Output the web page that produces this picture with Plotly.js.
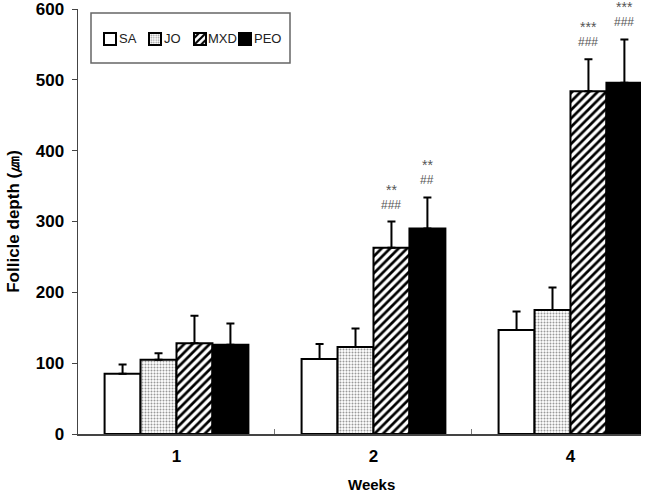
<!DOCTYPE html>
<html><head><meta charset="utf-8">
<script src="https://cdn.plot.ly/plotly-3.0.1.min.js"></script>
<style>html,body{margin:0;padding:0;background:#fff;}#chart{width:645px;height:493px;}</style>
</head><body><div id="chart"></div>
<script>
const weeks = ['1', '2', '4'];
const groups = ['SA', 'JO', 'MXD', 'PEO'];
const saMean = [85, 106, 147];
const saErr = [13, 21, 26];
const joMean = [105, 123, 175];
const joErr = [9, 26, 32];
const mxdMean = [128, 263, 484];
const mxdErr = [39, 37, 45];
const peoMean = [126, 290, 496];
const peoErr = [30, 44, 61];
// significance marks: [week index, group index, stars, hashes]
const sigWeek = [1, 1, 2, 2];
const sigGroup = [2, 3, 2, 3];
const sigStars = ['**', '**', '***', '***'];
const sigHash = ['###', '##', '###', '###'];

const means = [saMean, joMean, mxdMean, peoMean];
const errs = [saErr, joErr, mxdErr, peoErr];
const patterns = [
  {shape: '', fill: '#fff'},
  {shape: '.', fg: '#999', bg: '#fff', fill: '#fff', size: 3, solidity: 0.35},
  {shape: '/', fg: '#000', bg: '#fff', fill: '#fff', size: 6, solidity: 0.45},
  {shape: '', fill: '#000'}
];

const traces = groups.map((g, i) => {
  const p = patterns[i];
  const marker = {color: p.fill, line: {color: '#000', width: 2}};
  if (p.shape) marker.pattern = {shape: p.shape, fgcolor: p.fg, bgcolor: p.bg, size: p.size, solidity: p.solidity, fillmode: 'replace'};
  return {
    type: 'bar', name: '', x: weeks, y: means[i], marker: marker,
    error_y: {type: 'data', symmetric: false, array: errs[i], arrayminus: errs[i].map(() => 0), color: '#000', thickness: 2, width: 4}
  };
});

const L = 78, W = 563, B = 434, H = 425;
const px2x = p => (p - L) / W;
const px2y = p => (B - p) / H;

const bargap = 0.27;
const barW = (1 - bargap) / groups.length;
const annotations = [];
for (let k = 0; k < sigWeek.length; k++) {
  const w = sigWeek[k], gi = sigGroup[k];
  const xpos = w - (1 - bargap) / 2 + barW * (gi + 0.5);
  const top = means[gi][w] + errs[gi][w];
  annotations.push({x: xpos, y: top, xref: 'x', yref: 'y', text: sigHash[k], showarrow: false, yanchor: 'bottom', yshift: 8, font: {family: 'Liberation Sans, Arial', size: 12, color: '#555'}});
  annotations.push({x: xpos, y: top, xref: 'x', yref: 'y', text: sigStars[k], showarrow: false, yanchor: 'bottom', yshift: 22, font: {family: 'Liberation Sans, Arial', size: 14, color: '#555'}});
}
// legend labels next to the legend symbols
const legendLabelPx = [117, 162, 206, 252];
groups.forEach((g, i) => {
  annotations.push({x: px2x(legendLabelPx[i]), y: px2y(39), xref: 'paper', yref: 'paper', text: g, showarrow: false, xanchor: 'left', yanchor: 'middle', font: {family: 'Liberation Sans, Arial', size: 13, color: '#222'}});
});
// x axis title
annotations.push({x: px2x(371), y: px2y(484), xref: 'paper', yref: 'paper', text: '<b>Weeks</b>', showarrow: false, xanchor: 'center', yanchor: 'middle', font: {family: 'Liberation Sans, Arial', size: 15, color: '#000'}});

const layout = {
  width: 645, height: 493,
  margin: {l: 78, r: 4, t: 9, b: 59},
  paper_bgcolor: '#fff', plot_bgcolor: '#fff',
  font: {family: 'Liberation Sans, Arial, sans-serif', color: '#000'},
  barmode: 'group', bargap: bargap, bargroupgap: 0,
  showlegend: true,
  legend: {orientation: 'h', x: px2x(90), y: px2y(39), xanchor: 'left', yanchor: 'middle', font: {size: 13, color: '#000'}, bgcolor: 'rgba(0,0,0,0)', itemwidth: 30, traceorder: 'normal'},
  shapes: [{type: 'rect', xref: 'paper', yref: 'paper', x0: px2x(91), x1: px2x(290), y0: px2y(63), y1: px2y(13), line: {color: '#666', width: 1.5}, fillcolor: 'rgba(0,0,0,0)'}],
  xaxis: {
    type: 'category', range: [-0.5, 2.358], showgrid: false, zeroline: false,
    showline: true, linecolor: '#444', linewidth: 1.5,
    ticks: 'inside', tickson: 'boundaries', ticklen: 5, tickcolor: '#777',
    ticklabelstandoff: 6,
    tickfont: {size: 17, family: 'Liberation Sans, Arial', weight: 'bold'}
  },
  yaxis: {
    range: [0, 600], dtick: 100, showgrid: false, zeroline: false,
    showline: true, linecolor: '#444', linewidth: 1.5,
    ticks: 'outside', ticklen: 5, tickcolor: '#444',
    ticklabelstandoff: 4, ticklabeloverflow: 'allow',
    tickfont: {size: 17, family: 'Liberation Sans, Arial', weight: 'bold'},
    title: {text: '<b>Follicle depth (㎛)</b>', font: {size: 17}, standoff: 12}
  },
  annotations: annotations
};
Plotly.newPlot('chart', traces, layout, {displayModeBar: false, staticPlot: true});
</script></body></html>
